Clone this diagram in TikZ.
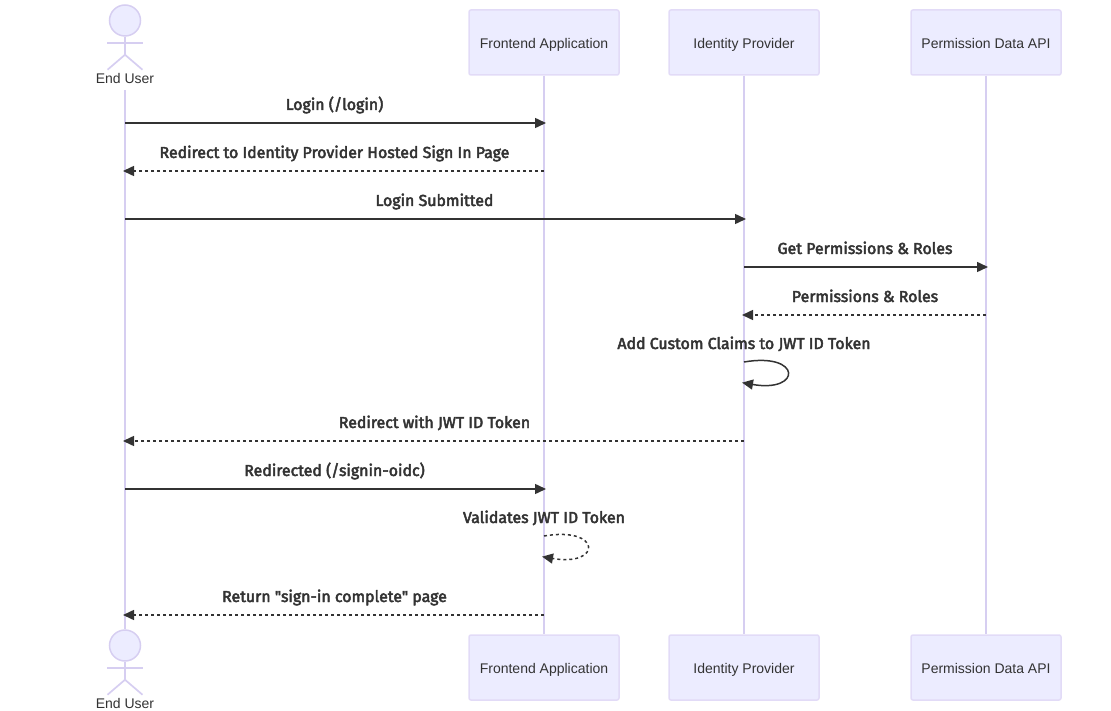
\documentclass[tikz,border=0pt]{standalone}
\usepackage{fontspec}
\setmainfont{Liberation Sans}
\newfontfamily\msgfont[FakeBold=3]{Fira Sans}
\usetikzlibrary{positioning,arrows.meta,calc}

\definecolor{boxfill}{HTML}{ECECFF}
\definecolor{boxline}{HTML}{E2DBF7}
\definecolor{lifecol}{HTML}{D6CEF1}
\definecolor{msgcol}{HTML}{333333}

\tikzset{
	party/.style={draw=boxline,line width=1.5pt,fill=boxfill,rounded corners=2pt,
		minimum width=150pt,minimum height=65pt,inner sep=0pt,text height=12pt,text depth=0pt,
		font=\fontsize{14}{16}\selectfont,text=msgcol},
	head/.style={circle,draw=lifecol,line width=1.5pt,fill=boxfill,minimum size=31pt,inner sep=0pt},
	actorname/.style={minimum height=24pt,inner sep=0pt,font=\fontsize{14}{16}\selectfont,text=msgcol},
	limb/.style={draw=lifecol,line width=1.7pt},
	life/.style={draw=lifecol,line width=1.7pt},
	msg/.style={draw=msgcol,line width=1.5pt,-{Triangle[length=11pt,width=10pt]},shorten >=-2pt},
	reply/.style={msg,dash pattern=on 3pt off 3pt},
	msgtext/.style={anchor=base,yshift=13pt,inner sep=0pt,text=msgcol,font=\fontsize{15.9}{18}\msgfont}
}

\begin{document}
\begin{tikzpicture}[x=1pt,y=-1pt]
	\useasboundingbox (0,0) rectangle (1111,711);

	% top row
	\node[head] (user) at (125,20.5) {};
	\node[actorname] (username) at (125,78) {End User};
	\node[party] (front) at (544,42.5) {Frontend Application};
	\node[party] (idp) at (744,42.5) {Identity Provider};
	\node[party] (perm) at (986,42.5) {Permission Data API};

	% bottom row
	\node[head] (userb) at (125,645.5) {};
	\node[actorname] (usernameb) at (125,703) {End User};
	\node[party] (frontb) at (544,667.5) {Frontend Application};
	\node[party] (idpb) at (744,667.5) {Identity Provider};
	\node[party] (permb) at (986,667.5) {Permission Data API};

	% stick figures
	\foreach \h in {user,userb} {
		\draw[limb] (\h.south) -- ++(0,18) coordinate (\h hip);
		\draw[limb] ($(\h.south)+(-18,6.5)$) -- ($(\h.south)+(18,6.5)$);
		\draw[limb] (\h hip) -- ++(-17.5,15);
		\draw[limb] (\h hip) -- ++(17.5,15);
	}

	% lifelines
	\draw[life] (username.south) -- (userb.north);
	\draw[life] (front.south) -- (frontb.north);
	\draw[life] (idp.south) -- (idpb.north);
	\draw[life] (perm.south) -- (permb.north);

	% message rows
	\coordinate (r1) at (0,123);
	\coordinate (r2) at (0,171);
	\coordinate (r3) at (0,219);
	\coordinate (r4) at (0,267);
	\coordinate (r5) at (0,315);
	\coordinate (r6) at (0,362);
	\coordinate (r7) at (0,441);
	\coordinate (r8) at (0,489);
	\coordinate (r9) at (0,536);
	\coordinate (r10) at (0,615);

	\draw[msg] (user |- r1) -- node[msgtext]{Login (/login)} (front |- r1);
	\draw[reply] (front |- r2) -- node[msgtext]{Redirect to Identity Provider Hosted Sign In Page} (user |- r2);
	\draw[msg] (user |- r3) -- node[msgtext]{Login Submitted} (idp |- r3);
	\draw[msg] (idp |- r4) -- node[msgtext]{Get Permissions \& Roles} (perm |- r4);
	\draw[reply] (perm |- r5) -- node[msgtext]{Permissions \& Roles} (idp |- r5);
	\draw[msg] (idp |- r6) .. controls +(58,-10) and +(58,10) .. ($(idp |- r6)+(0,21)$);
	\node[msgtext] (claims) at (idp |- r6) {Add Custom Claims to JWT ID Token};
	\draw[reply] (idp |- r7) -- node[msgtext]{Redirect with JWT ID Token} (user |- r7);
	\draw[msg] (user |- r8) -- node[msgtext]{Redirected (/signin-oidc)} (front |- r8);
	\draw[reply] (front |- r9) .. controls +(58,-10) and +(58,10) .. ($(front |- r9)+(0,21)$);
	\node[msgtext] (validates) at (front |- r9) {Validates JWT ID Token};
	\draw[reply] (front |- r10) -- node[msgtext]{Return "sign-in complete" page} (user |- r10);
\end{tikzpicture}
\end{document}
